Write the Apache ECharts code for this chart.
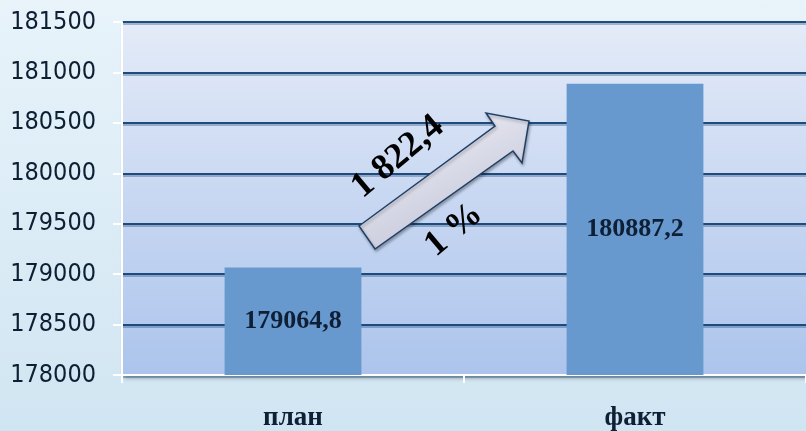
<!DOCTYPE html>
<html>
<head>
<meta charset="utf-8">
<script src="https://cdn.jsdelivr.net/npm/echarts@6/dist/echarts.min.js"></script>
<style>
html,body{margin:0;padding:0;}
body{width:806px;height:431px;background:linear-gradient(180deg,#e8f3fa 0%,#d0e5f2 100%);}
#c{width:806px;height:431px;}
</style>
</head>
<body>
<div id="c"></div>
<script>
const categories = ['план', 'факт'];
const values = [179064.8, 180887.2];
const labels = ['179064,8', '180887,2'];
const diffText = '1 822,4';
const pctText = '1 %';
const yMin = 178000, yMax = 181500, yStep = 500;

const chart = echarts.init(document.getElementById('c'));
const serif = '"Liberation Serif","Times New Roman",serif';
chart.setOption({
  animation: false,
  backgroundColor: 'transparent',
  grid: {
    left: 122, right: 0, top: 22, bottom: 56,
    containLabel: false,
    outerBoundsMode: 'none',
    show: true,
    borderWidth: 0,
    backgroundColor: new echarts.graphic.LinearGradient(0, 0, 0, 1, [
      {offset: 0, color: '#e4ebf8'},
      {offset: 1, color: '#acc4ec'}
    ]),
    shadowColor: 'rgba(0,0,0,0.35)',
    shadowBlur: 4,
    shadowOffsetX: 2,
    shadowOffsetY: 3
  },
  xAxis: {
    type: 'category',
    data: categories,
    axisLine: {show: true, lineStyle: {color: '#ffffff', width: 2}},
    axisTick: {show: true, length: 8, lineStyle: {color: '#ffffff', width: 2}},
    axisLabel: {
      margin: 30,
      fontFamily: serif, fontWeight: 'bold', fontSize: 27, color: '#0f1f35'
    }
  },
  yAxis: {
    type: 'value',
    min: yMin, max: yMax, interval: yStep,
    axisLine: {show: true, lineStyle: {color: '#ffffff', width: 2}},
    axisTick: {show: true, length: 9, lineStyle: {color: '#ffffff', width: 2}},
    splitLine: {show: true, lineStyle: {color: '#1e4a7c', width: 2, shadowColor: 'rgba(30,74,124,0.35)', shadowBlur: 0, shadowOffsetY: 2}},
    axisLabel: {
      margin: 26,
      formatter: v => String(v),
      fontFamily: '"DejaVu Sans Condensed","DejaVu Sans",sans-serif',
      fontSize: 25, color: '#0d1f33'
    }
  },
  series: [{
    type: 'bar',
    data: values,
    barWidth: '40%',
    itemStyle: {color: '#6799cf'},
    label: {
      show: true,
      position: 'inside',
      formatter: p => labels[p.dataIndex],
      fontFamily: serif, fontWeight: 'bold', fontSize: 26, color: '#0f1f35'
    }
  }],
  graphic: [
    {
      type: 'polygon',
      z: 100,
      shape: {points: [[359, 226], [495, 126], [486, 113], [529, 121], [522, 163], [513, 151], [375, 249]]},
      style: {
        fill: new echarts.graphic.LinearGradient(0, 0, 0.4, 1, [
          {offset: 0, color: '#f6f6fb'},
          {offset: 1, color: '#c6c8da'}
        ]),
        stroke: '#1f3f66',
        lineWidth: 1.5,
        shadowColor: 'rgba(0,0,0,0.3)',
        shadowBlur: 3,
        shadowOffsetX: 1,
        shadowOffsetY: 2
      }
    },
    {
      type: 'text',
      z: 101,
      x: 398, y: 157,
      rotation: 40 * Math.PI / 180,
      style: {
        text: diffText,
        font: 'bold 36px ' + serif,
        fill: '#000000',
        align: 'center',
        verticalAlign: 'middle'
      }
    },
    {
      type: 'text',
      z: 101,
      x: 454, y: 230,
      rotation: 40 * Math.PI / 180,
      style: {
        text: pctText,
        font: 'bold 36px ' + serif,
        fill: '#000000',
        align: 'center',
        verticalAlign: 'middle'
      }
    }
  ]
});
</script>
</body>
</html>
